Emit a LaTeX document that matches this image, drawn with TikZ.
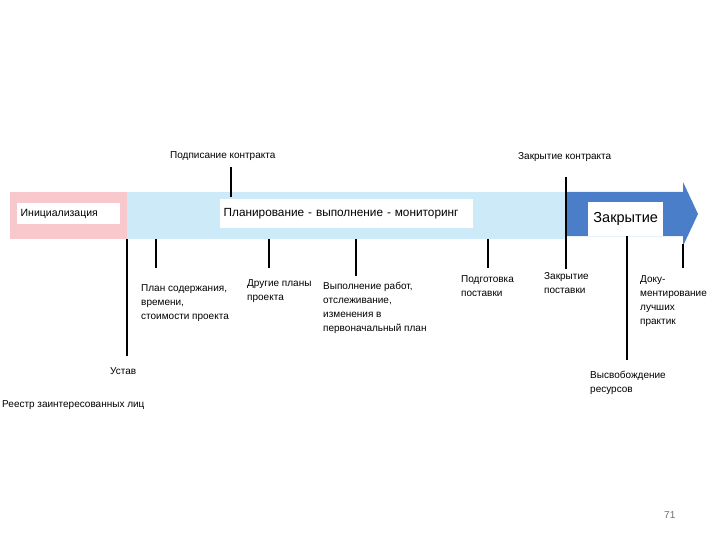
\documentclass[tikz,border=0pt]{standalone}
\usepackage{fontspec}
\setmainfont{Liberation Sans}
\definecolor{pinkband}{RGB}{248,200,204}
\definecolor{lightband}{RGB}{204,234,248}
\definecolor{darkband}{RGB}{74,126,200}
\definecolor{pagegray}{RGB}{110,110,110}
\tikzset{
  lbl/.style={font=\fontsize{10}{14}\selectfont, align=left, anchor=base west, inner sep=0pt},
  mlbl/.style={font=\fontsize{10}{14}\selectfont, align=left, anchor=north west, inner sep=0pt},
  tick/.style={line width=1.8pt, black},
  phasebox/.style={fill=white, draw=none, inner sep=0pt, anchor=west}
}
\begin{document}
\begin{tikzpicture}[x=1pt,y=-1pt]
\useasboundingbox (0,0) rectangle (720,540);
% bands
\fill[pinkband] (10,192) rectangle (127,239);
\fill[lightband] (127,192) rectangle (566,239);
\fill[darkband] (566,192) -- (683,192) -- (683,182) -- (698,214) -- (683,246) -- (683,236) -- (566,236) -- cycle;
% phase boxes
\node[phasebox, minimum width=103pt, minimum height=21pt, font=\fontsize{10.5}{12}\selectfont, text width=100pt, align=left] (init) at (17,213.5) {\hspace*{2pt}Инициализация};
\node[phasebox, minimum width=253pt, minimum height=29pt, font=\fontsize{11.8}{13}\selectfont, text width=250pt, align=left] (plan) at (220,214) {\hspace*{2pt}Планирование - выполнение - мониторинг};
\node[phasebox, minimum width=75pt, minimum height=33pt, font=\fontsize{14.5}{16}\selectfont] (close) at (588,219) {Закрытие};
% coordinates for tick ends
\coordinate (t1a) at (231,167); \coordinate (t1b) at (231,197);
\coordinate (t2a) at (566,177); \coordinate (t2b) at (566,269);
\coordinate (t3a) at (127,239); \coordinate (t3b) at (127,356);
\coordinate (t4a) at (156,239); \coordinate (t4b) at (156,268);
\coordinate (t5a) at (269,239); \coordinate (t5b) at (269,268);
\coordinate (t6a) at (356,239); \coordinate (t6b) at (356,276);
\coordinate (t7a) at (488,239); \coordinate (t7b) at (488,268);
\coordinate (t8a) at (627,236); \coordinate (t8b) at (627,360);
\coordinate (t9a) at (683,244); \coordinate (t9b) at (683,268);
\foreach \i in {1,...,9} \draw[tick] (t\i a) -- (t\i b);
% labels
\node[lbl] (l1) at (170,158.6) {Подписание контракта};
\node[lbl] (l2) at (518,159.6) {Закрытие контракта};
\node[lbl] (l3) at (110,374.6) {Устав};
\node[lbl] (l3b) at (2,407.6) {Реестр заинтересованных лиц};
\node[mlbl] (l4) at (141,284) {План содержания,\\времени,\\стоимости проекта};
\node[mlbl] (l5) at (247,279) {Другие планы\\проекта};
\node[mlbl] (l6) at (323,282) {Выполнение работ,\\отслеживание,\\изменения в\\первоначальный план};
\node[mlbl] (l7) at (461,275) {Подготовка\\поставки};
\node[mlbl] (l8) at (544,272) {Закрытие\\поставки};
\node[mlbl] (l9) at (590,371) {Высвобождение\\ресурсов};
\node[mlbl] (l10) at (640,275) {Доку-\\ментирование\\лучших\\практик};
\node[lbl, text=pagegray] (pg) at (664,518.6) {71};
\end{tikzpicture}
\end{document}
